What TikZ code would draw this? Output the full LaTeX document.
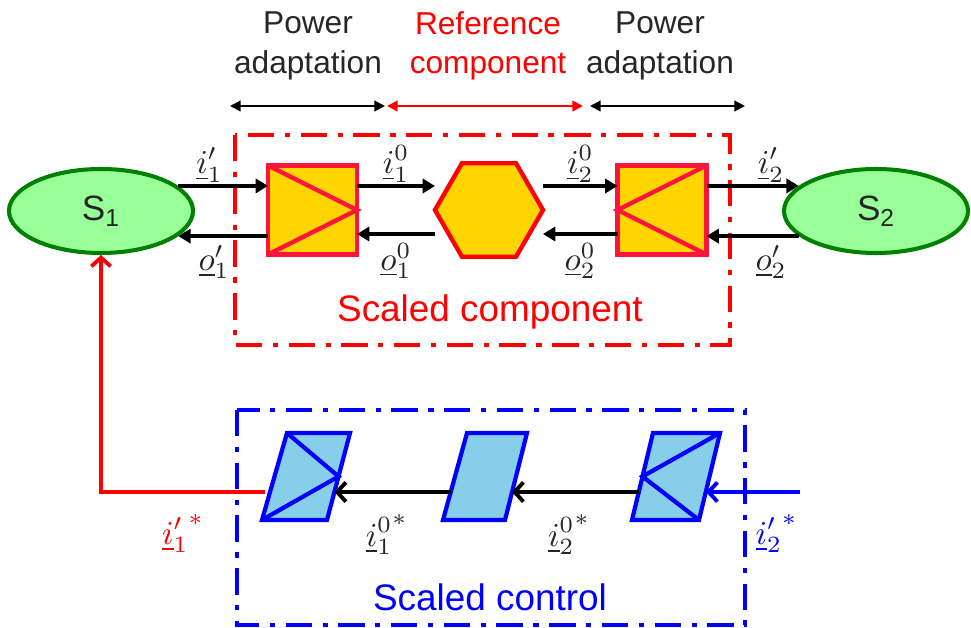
\documentclass[tikz,border=0pt]{standalone}
\usepackage{fontspec}
\setmainfont{Liberation Sans}
\usepackage{xcolor}
\usetikzlibrary{arrows.meta, shapes.geometric}
\definecolor{blockfill}{RGB}{255,212,0}
\definecolor{blockline}{RGB}{255,20,60}
\definecolor{srcfill}{RGB}{153,255,153}
\definecolor{srcline}{RGB}{0,128,0}
\definecolor{ctlfill}{RGB}{135,206,235}
\definecolor{txtgray}{RGB}{38,38,38}
\newcommand{\siglabel}[1]{\scalebox{1.9}{$#1$}}

\begin{document}
\begin{tikzpicture}[
  every node/.style = {font=\fontsize{18}{22.5}\selectfont, text=txtgray},
  source/.style = {ellipse, draw=srcline, fill=srcfill, line width=2.3pt, minimum width=3.68cm, minimum height=1.68cm, font=\fontsize{20}{24}\selectfont},
  adapter/.style = {rectangle, draw=blockline, fill=blockfill, line width=2.5pt, minimum size=1.78cm, outer sep=0pt},
  refblock/.style = {regular polygon, regular polygon sides=6, draw=red, fill=blockfill, line width=2.5pt, minimum size=2.16cm, inner sep=0pt, outer sep=0pt},
  ctlblock/.style = {draw=blue, fill=ctlfill, line width=2.4pt, line join=miter},
  ctlline/.style = {draw=blue, line width=2.4pt},
  frame/.style = {line width=2.3pt, dash pattern=on 15pt off 6pt on 3pt off 6pt},
  framelabel/.style = {font=\fontsize{21}{25}\selectfont, inner sep=0pt},
  span/.style = {line width=1.2pt, {Triangle[length=6pt,width=6pt]}-{Triangle[length=6pt,width=6pt]}},
  flow/.style = {line width=2.2pt, -{Triangle[length=7pt,width=8pt]}},
  cmd/.style = {line width=2.2pt, -{Straight Barb[length=5pt,width=11pt]}},
  lbl/.style = {font=\fontsize{10}{12}\selectfont, inner sep=1pt},
  >=Latex
]
  \useasboundingbox (0,0) rectangle (19.42,-12.56);

  % headings
  \node[align=center] (padl) at (6.16,-0.92) {Power\\adaptation};
  \node[align=center, text=red] (refl) at (9.76,-0.92) {Reference\\component};
  \node[align=center] (padr) at (13.2,-0.92) {Power\\adaptation};

  \coordinate (d1) at (4.6,-2.12);
  \coordinate (d2) at (7.7,-2.12);
  \coordinate (d3) at (7.74,-2.12);
  \coordinate (d4) at (11.66,-2.12);
  \coordinate (d5) at (11.8,-2.12);
  \coordinate (d6) at (14.9,-2.12);
  \draw[span] (d1) -- (d2);
  \draw[span, red] (d3) -- (d4);
  \draw[span] (d5) -- (d6);

  % scaled component
  \draw[frame, red] (4.7,-2.7) rectangle (14.6,-6.9);
  \node[framelabel, text=red] (compl) at (9.8,-6.24) {Scaled component};

  \node[source] (s1) at (2.02,-4.22) {S\textsubscript{1}};
  \node[source] (s2) at (17.52,-4.22) {S\textsubscript{2}};

  \node[adapter] (pa1) at (6.25,-4.2) {};
  \node[refblock] (refc) at (9.78,-4.2) {};
  \node[adapter] (pa2) at (13.24,-4.2) {};
  \draw[blockline, line width=2.5pt] (pa1.north west) -- (pa1.east) -- (pa1.south west);
  \draw[blockline, line width=2.5pt] (pa2.north east) -- (pa2.west) -- (pa2.south east);

  \draw[flow] (s1.18) -- node[lbl, pos=0.35, above] {\siglabel{\underline{i}'_1}} (s1.18 -| pa1.west);
  \draw[flow] (s1.342 -| pa1.west) -- node[lbl, pos=0.6, below=3pt] {\siglabel{\underline{o}'_1}} (s1.342);
  \draw[flow] ([yshift=0.48cm]pa1.east) -- node[lbl, above] {\siglabel{\underline{i}^0_1}} ([yshift=0.48cm]refc.west);
  \draw[flow] ([yshift=-0.48cm]refc.west) -- node[lbl, below=3pt] {\siglabel{\underline{o}^0_1}} ([yshift=-0.48cm]pa1.east);
  \draw[flow] ([yshift=0.48cm]refc.east) -- node[lbl, above] {\siglabel{\underline{i}^0_2}} ([yshift=0.48cm]pa2.west);
  \draw[flow] ([yshift=-0.48cm]pa2.west) -- node[lbl, below=3pt] {\siglabel{\underline{o}^0_2}} ([yshift=-0.48cm]refc.east);
  \draw[flow] (pa2.east |- s2.162) -- node[lbl, pos=0.7, above] {\siglabel{\underline{i}'_2}} (s2.162);
  \draw[flow] (s2.198) -- node[lbl, pos=0.3, below=3pt] {\siglabel{\underline{o}'_2}} (s2.198 -| pa2.east);

  % scaled control
  \draw[frame, blue] (4.74,-8.2) rectangle (14.9,-12.5);
  \node[framelabel, text=blue] (ctll) at (9.8,-11.94) {Scaled control};

  \filldraw[ctlblock] (5.24,-10.4) -- (6.54,-10.4) -- (7.0,-8.66) -- (5.74,-8.66) -- cycle;
  \draw[ctlline] (5.74,-8.66) -- (6.77,-9.53) -- (5.24,-10.4);
  \filldraw[ctlblock] (8.86,-10.4) -- (10.1,-10.4) -- (10.54,-8.66) -- (9.34,-8.66) -- cycle;
  \filldraw[ctlblock] (12.64,-10.4) -- (13.98,-10.4) -- (14.4,-8.66) -- (13.06,-8.66) -- cycle;
  \draw[ctlline] (14.4,-8.66) -- (12.85,-9.53) -- (13.98,-10.4);

  \coordinate (c1w) at (5.3,-9.84);
  \coordinate (c1e) at (6.69,-9.84);
  \coordinate (c2w) at (9.01,-9.84);
  \coordinate (c2e) at (10.24,-9.84);
  \coordinate (c3w) at (12.78,-9.84);
  \coordinate (c3e) at (14.12,-9.84);
  \coordinate (ext) at (16.0,-9.84);

  \draw[cmd] (c2w) -- node[lbl, pos=0.55, below=11pt] {\siglabel{{\underline{i}^0_1}^*}} (c1e);
  \draw[cmd] (c3w) -- node[lbl, pos=0.55, below=11pt] {\siglabel{{\underline{i}^0_2}^*}} (c2e);
  \draw[cmd, blue] (ext) -- node[lbl, text=blue, pos=0.25, below=11pt] {\siglabel{{\underline{i}'_2}^*}} (c3e);
  \draw[cmd, red] (c1w) -| node[lbl, text=red, pos=0.25, below=11pt] {\siglabel{{\underline{i}'_1}^*}} (s1.south);
\end{tikzpicture}
\end{document}
